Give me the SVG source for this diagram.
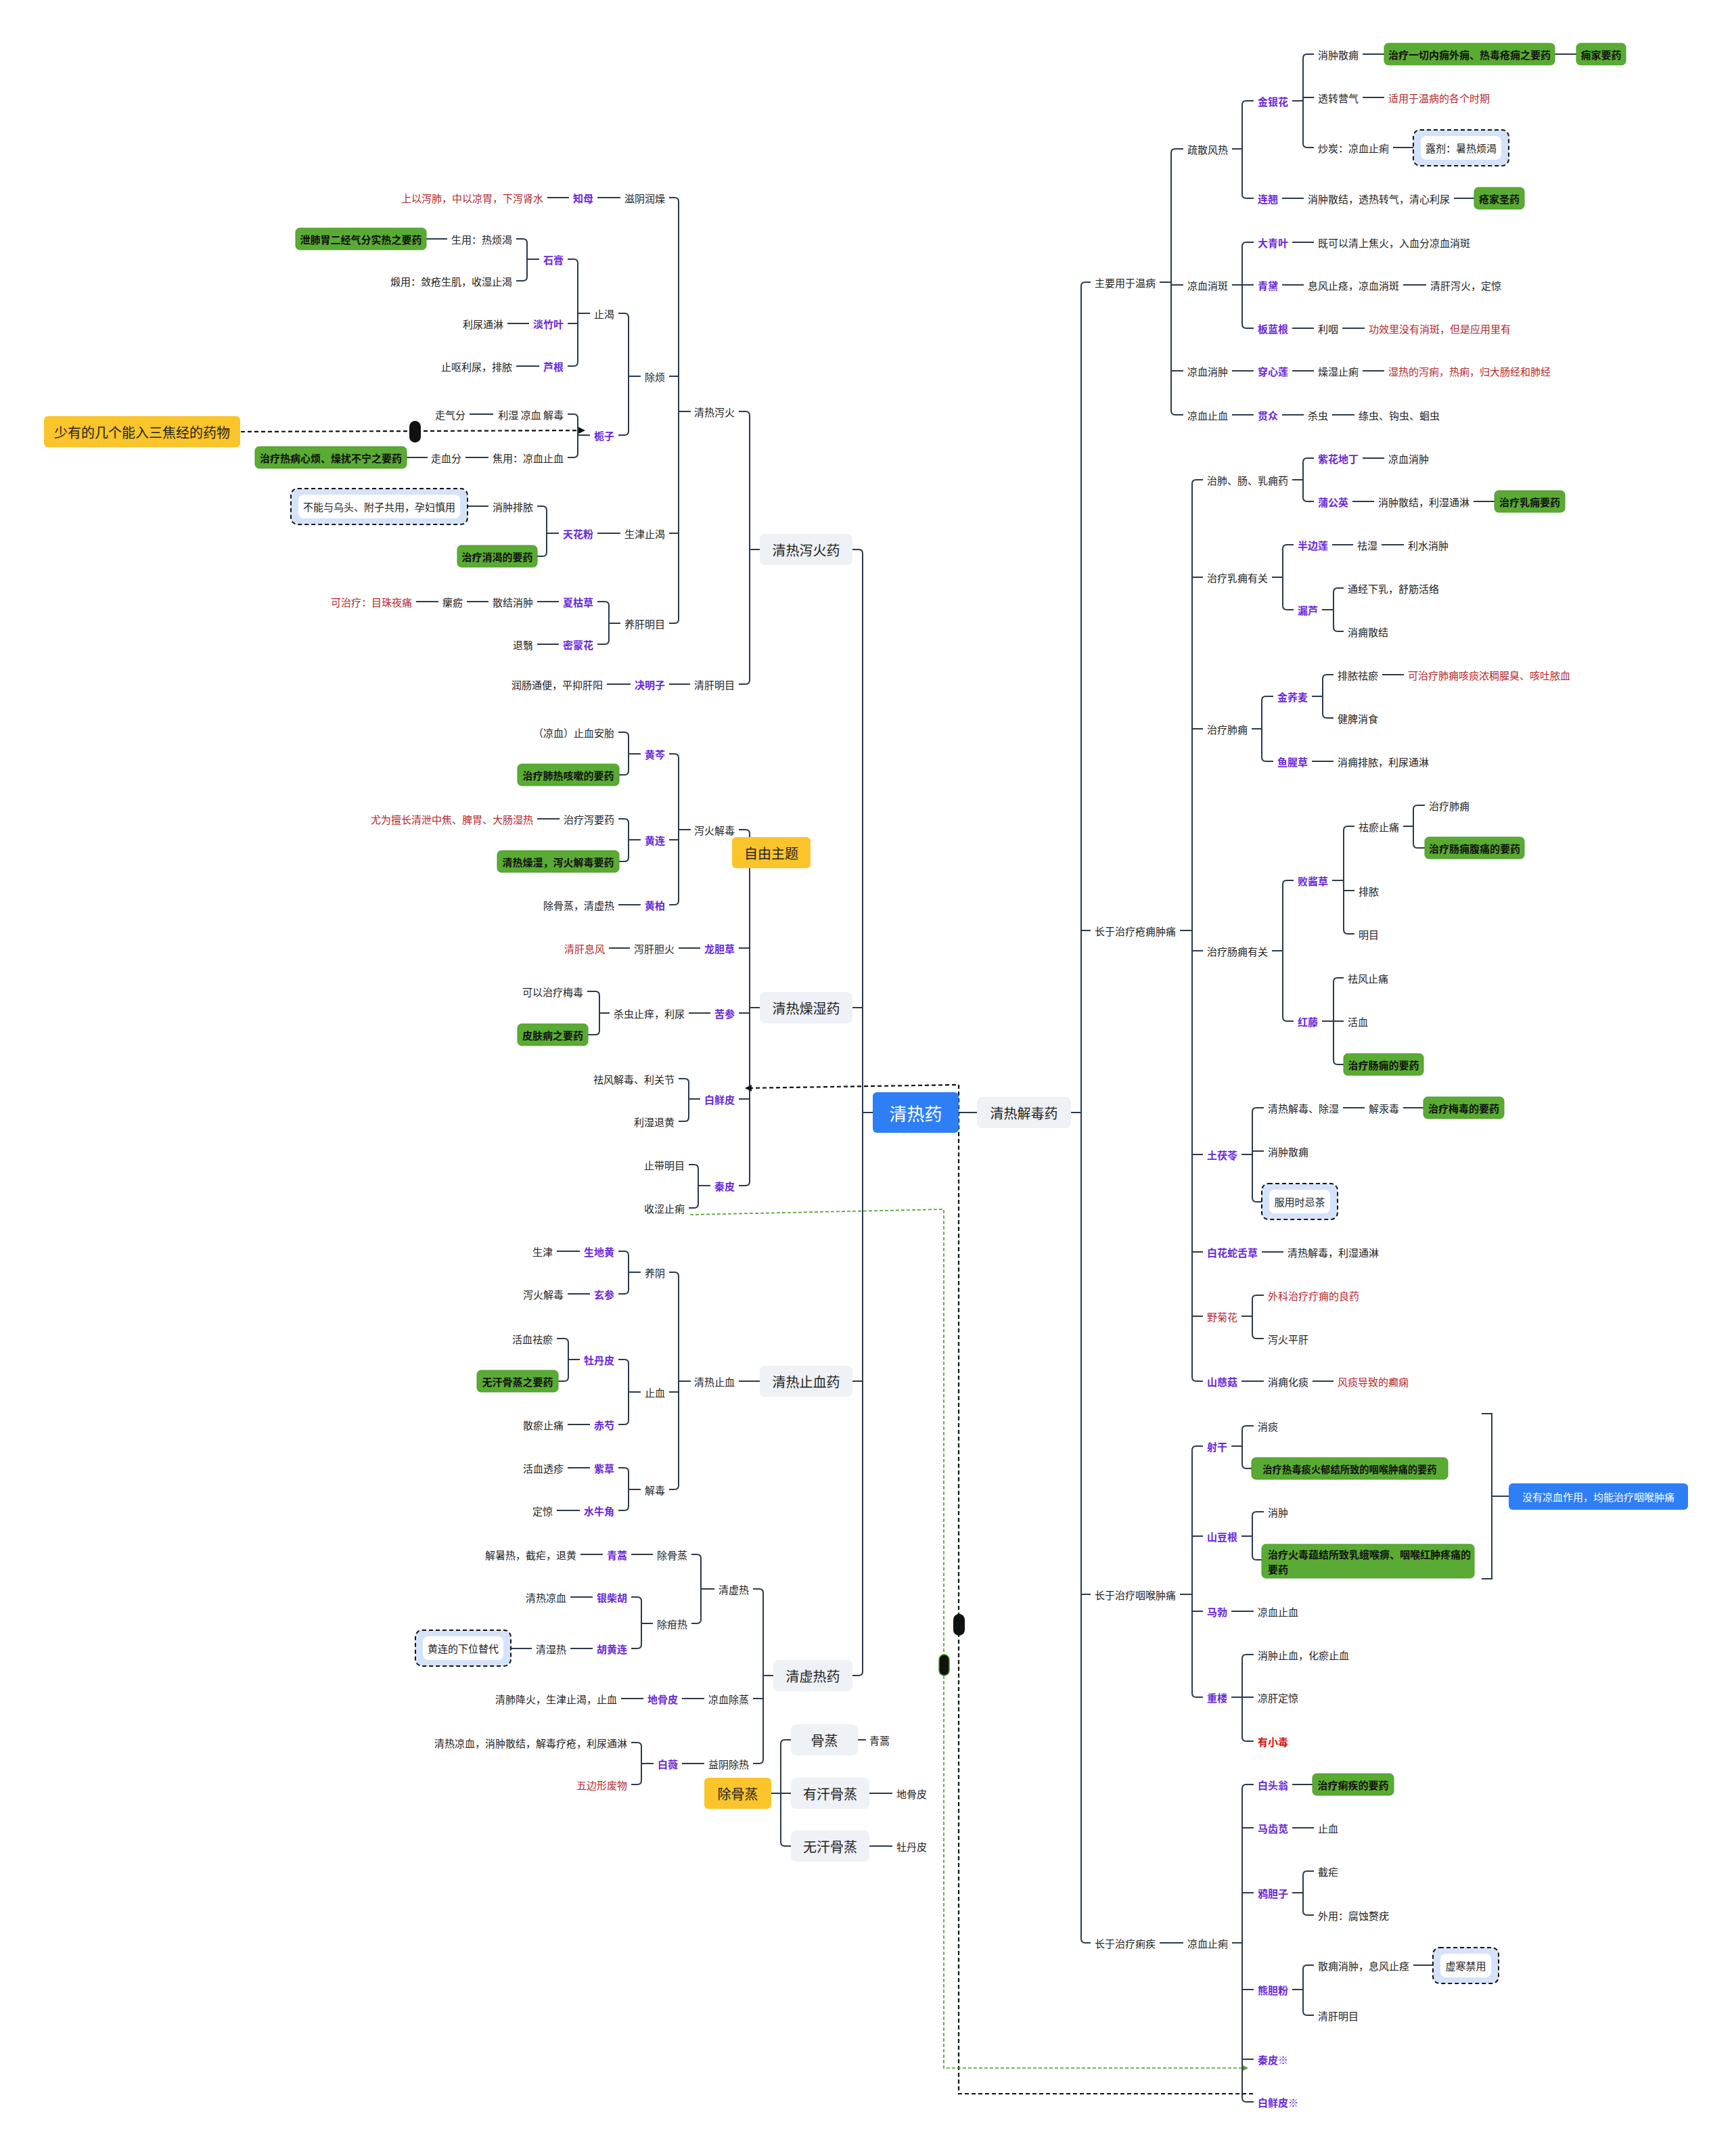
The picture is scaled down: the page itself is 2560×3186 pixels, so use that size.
<svg xmlns="http://www.w3.org/2000/svg" width="2560" height="3186" viewBox="0 0 2560 3186">
<style>
text{font-family:"Noto Sans CJK SC","Noto Sans",sans-serif;font-size:15px;fill:#222;dominant-baseline:central}
.e{text-anchor:end}
.m{text-anchor:middle}
.d{fill:#6a28d8;font-weight:700}
.r{fill:#b3282d}
.k{font-weight:700;fill:#111}
.big{font-size:20px;fill:#222}
.gr{fill:#5aab33;stroke:#4a9a2b;stroke-width:1}
.gy{fill:#eef1f5}
.yl{fill:#fac42b}
.bl{fill:#2e7ef6}
.do{fill:#d5e3fa;stroke:#111;stroke-width:2;stroke-dasharray:6 4}
.di{fill:#fff}
.ln{fill:none;stroke:#2b3a4c;stroke-width:2}
.rb{fill:none;stroke:#111;stroke-width:2.2;stroke-dasharray:6 4}
.rg{fill:none;stroke:#4a9a2b;stroke-width:1.6;stroke-dasharray:5 3}
</style>
<defs>
<marker id="ab" viewBox="0 0 10 10" refX="9" refY="5" markerWidth="4.5" markerHeight="4.5" orient="auto" markerUnits="strokeWidth"><path d="M0,0 L10,5 L0,10 z" fill="#111"/></marker>
<marker id="ag" viewBox="0 0 10 10" refX="9" refY="5" markerWidth="5" markerHeight="5" orient="auto" markerUnits="strokeWidth"><path d="M0,0 L10,5 L0,10 z" fill="#4a9a2b"/></marker>
</defs>
<rect width="2560" height="3186" fill="#fff"/>
<g id="connectors">
<path class="ln" d="M1260 812H1269Q1275 812 1275 818V2470Q1275 2476 1269 2476H1260M1260 1489H1275M1260 2041H1275M1275 1644H1290"/>
<path class="ln" d="M1092 608H1102Q1108 608 1108 614V1005Q1108 1011 1102 1011H1092M1108 812H1123"/>
<path class="ln" d="M989 292H997Q1003 292 1003 298V915Q1003 921 997 921H989M989 556H1003M989 788H1003M1003 608H1021"/>
<path class="ln" d="M883 292H917M809 292H841"/>
<path class="ln" d="M914 463H923Q929 463 929 469V637Q929 643 923 643H914M929 556H947"/>
<path class="ln" d="M839 383H848Q854 383 854 389V535Q854 541 848 541H839M839 478H854M854 463H872"/>
<path class="ln" d="M763 353H773Q779 353 779 359V409Q779 415 773 415H763M779 383H797M630 353H661M750 478H782M763 541H797"/>
<path class="ln" d="M839 612H848Q854 612 854 618V670Q854 676 848 676H839M854 643H872M694 612H729M688 676H722M601 676H632"/>
<path class="ln" d="M883 788H917M794 748H802Q808 748 808 754V816Q808 822 802 822H794M808 788H826M691 748H722"/>
<path class="ln" d="M883 889H894Q900 889 900 895V946Q900 952 894 952H883M900 921H917M794 889H826M690 889H722M615 889H648M794 952H826"/>
<path class="ln" d="M989 1011H1020M897 1011H932"/>
<path class="ln" d="M1092 1226H1102Q1108 1226 1108 1232V1746Q1108 1752 1102 1752H1092M1092 1401H1108M1092 1497H1108M1092 1624H1108M1108 1489H1123"/>
<path class="ln" d="M989 1114H997Q1003 1114 1003 1120V1331Q1003 1337 997 1337H989M989 1241H1003M1003 1226H1021"/>
<path class="ln" d="M914 1082H923Q929 1082 929 1088V1139Q929 1145 923 1145H915M929 1114H947"/>
<path class="ln" d="M914 1210H923Q929 1210 929 1216V1267Q929 1273 923 1273H915M929 1241H947M794 1210H827M914 1337H947"/>
<path class="ln" d="M1003 1401H1035M900 1401H931M1018 1497H1050"/>
<path class="ln" d="M868 1465H880Q886 1465 886 1471V1523Q886 1529 880 1529H869M886 1497H901"/>
<path class="ln" d="M1003 1594H1012Q1018 1594 1018 1600V1651Q1018 1657 1012 1657H1003M1018 1624H1035"/>
<path class="ln" d="M1018 1721H1026Q1032 1721 1032 1727V1779Q1032 1785 1026 1785H1018M1032 1752H1050"/>
<path class="ln" d="M1092 2041H1123M989 1880H997Q1003 1880 1003 1886V2195Q1003 2201 997 2201H989M989 2057H1003M1003 2041H1021"/>
<path class="ln" d="M914 1849H923Q929 1849 929 1855V1906Q929 1912 923 1912H914M929 1880H947M823 1849H857M839 1912H872"/>
<path class="ln" d="M914 2009H923Q929 2009 929 2015V2099Q929 2105 923 2105H914M929 2057H947"/>
<path class="ln" d="M823 1978H834Q840 1978 840 1984V2035Q840 2041 834 2041H825M840 2009H857M839 2105H872"/>
<path class="ln" d="M914 2169H923Q929 2169 929 2175V2226Q929 2232 923 2232H914M929 2201H947M839 2169H872M823 2232H857"/>
<path class="ln" d="M1113 2348H1122Q1128 2348 1128 2354V2600Q1128 2606 1122 2606H1113M1113 2510H1128M1128 2476H1143"/>
<path class="ln" d="M1022 2297H1030Q1036 2297 1036 2303V2393Q1036 2399 1030 2399H1022M1036 2348H1056M933 2297H965M858 2297H891"/>
<path class="ln" d="M933 2360H942Q948 2360 948 2366V2430Q948 2436 942 2436H933M948 2399H965M843 2360H876M843 2436H876M755 2436H786"/>
<path class="ln" d="M1008 2510H1041M918 2510H951M1008 2606H1041"/>
<path class="ln" d="M933 2575H942Q948 2575 948 2581V2631Q948 2637 942 2637H933M948 2606H966"/>
<path class="ln" d="M1169 2571H1160Q1154 2571 1154 2577V2722Q1154 2728 1160 2728H1169M1140 2650H1169M1268 2571H1280M1285 2650H1319M1285 2728H1319"/>
<path class="ln" d="M1417 1644H1444M1612 417H1604Q1598 417 1598 423V2865Q1598 2871 1604 2871H1612M1598 1375H1612M1598 2356H1612M1583 1644H1598"/>
<path class="ln" d="M1749 220H1737Q1731 220 1731 226V607Q1731 613 1737 613H1749M1731 421H1749M1731 548H1749M1714 417H1731"/>
<path class="ln" d="M1853 149H1842Q1836 149 1836 155V287Q1836 293 1842 293H1853M1821 220H1836"/>
<path class="ln" d="M1942 80H1932Q1926 80 1926 86V212Q1926 218 1932 218H1942M1926 144H1942M1910 149H1926M2014 80H2046M2298 80H2330M2014 144H2046M2059 218H2089M1895 293H1927M2149 293H2179"/>
<path class="ln" d="M1853 358H1842Q1836 358 1836 364V479Q1836 485 1842 485H1853M1821 421H1853M1910 358H1942M1895 421H1927M2074 421H2108M1910 485H1942M1984 485H2017"/>
<path class="ln" d="M1821 548H1853M1910 548H1942M2014 548H2046M1821 613H1853M1895 613H1927M1969 613H2002"/>
<path class="ln" d="M1778 709H1768Q1762 709 1762 715V2035Q1762 2041 1768 2041H1778M1762 853H1778M1762 1077H1778M1762 1405H1778M1762 1706H1778M1762 1850H1778M1762 1945H1778M1744 1375H1762"/>
<path class="ln" d="M1942 677H1932Q1926 677 1926 683V735Q1926 741 1932 741H1942M1910 709H1926M2014 677H2046M1999 741H2031M2178 741H2209"/>
<path class="ln" d="M1912 805H1902Q1896 805 1896 811V895Q1896 901 1902 901H1912M1880 853H1896M1969 805H2000M2042 805H2075"/>
<path class="ln" d="M1986 869H1977Q1971 869 1971 875V927Q1971 933 1977 933H1986M1954 901H1971"/>
<path class="ln" d="M1882 1029H1871Q1865 1029 1865 1035V1119Q1865 1125 1871 1125H1882M1850 1077H1865"/>
<path class="ln" d="M1971 997H1961Q1955 997 1955 1003V1055Q1955 1061 1961 1061H1971M1939 1029H1955M2043 997H2075M1939 1125H1971"/>
<path class="ln" d="M1912 1301H1902Q1896 1301 1896 1307V1503Q1896 1509 1902 1509H1912M1880 1405H1896"/>
<path class="ln" d="M2002 1221H1992Q1986 1221 1986 1227V1374Q1986 1380 1992 1380H2002M1986 1316H2002M1969 1301H1986"/>
<path class="ln" d="M2106 1190H2095Q2089 1190 2089 1196V1247Q2089 1253 2095 1253H2106M2074 1221H2089"/>
<path class="ln" d="M1986 1445H1977Q1971 1445 1971 1451V1567Q1971 1573 1977 1573H1986M1954 1509H1986"/>
<path class="ln" d="M1868 1637H1857Q1851 1637 1851 1643V1770Q1851 1776 1857 1776H1865M1851 1701H1868M1835 1706H1851M1985 1637H2017M2074 1637H2104M1865 1850H1897"/>
<path class="ln" d="M1868 1914H1857Q1851 1914 1851 1920V1972Q1851 1978 1857 1978H1868M1835 1945H1851M1835 2041H1868M1940 2041H1971"/>
<path class="ln" d="M1778 2137H1768Q1762 2137 1762 2143V2502Q1762 2508 1768 2508H1778M1762 2270H1778M1762 2381H1778M1744 2356H1762"/>
<path class="ln" d="M1853 2107H1842Q1836 2107 1836 2113V2164Q1836 2170 1842 2170H1850M1820 2137H1836"/>
<path class="ln" d="M1868 2234H1857Q1851 2234 1851 2240V2299Q1851 2305 1857 2305H1865M1835 2270H1851"/>
<path class="ln" d="M2190 2089H2205V2333H2190M2205 2211H2230M1820 2381H1853"/>
<path class="ln" d="M1853 2445H1842Q1836 2445 1836 2451V2567Q1836 2573 1842 2573H1853M1820 2508H1853"/>
<path class="ln" d="M1714 2871H1749M1853 2637H1842Q1836 2637 1836 2643V3100Q1836 3106 1842 3106H1853M1836 2701H1853M1836 2797H1853M1836 2940H1853M1836 3043H1853M1821 2871H1836"/>
<path class="ln" d="M1910 2637H1940M1910 2701H1942"/>
<path class="ln" d="M1942 2765H1932Q1926 2765 1926 2771V2824Q1926 2830 1932 2830H1942M1910 2797H1926"/>
<path class="ln" d="M1942 2904H1932Q1926 2904 1926 2910V2972Q1926 2978 1932 2978H1942M1910 2940H1926M2089 2904H2118"/>
<path class="rb" d="M356 638L864 636" marker-end="url(#ab)"/>
<path class="rb" d="M1852 3094H1417V1603L1102 1608" marker-end="url(#ab)"/>
<path class="rg" d="M1020 1795L1395 1787V3056H1844" marker-end="url(#ag)"/>
<rect x="605" y="622" width="17" height="32" rx="8.5" fill="#111"/>
<rect x="1409" y="2385" width="17" height="32" rx="8.5" fill="#111"/>
<rect x="1388" y="2445" width="15" height="31" rx="7.5" fill="#111" stroke="#4a9a2b" stroke-width="1.5"/>
</g>
<g id="n-root"><rect class="bl" x="1290" y="1614" width="127" height="60" rx="6"/><text class="m" x="1353.5" y="1644" style="font-size:26px;fill:#fff">清热药</text></g>
<g id="n-l1a"><rect class="gy" x="1123" y="789" width="137" height="46" rx="8"/><text class="m big" x="1191.5" y="812">清热泻火药</text></g>
<g id="n-l1b"><rect class="gy" x="1123" y="1466" width="137" height="46" rx="8"/><text class="m big" x="1191.5" y="1489">清热燥湿药</text></g>
<g id="n-l1c"><rect class="gy" x="1123" y="2018" width="137" height="46" rx="8"/><text class="m big" x="1191.5" y="2041">清热止血药</text></g>
<g id="n-l1d"><rect class="gy" x="1143" y="2453" width="117" height="46" rx="8"/><text class="m big" x="1201.5" y="2476">清虚热药</text></g>
<g id="n-r1"><rect class="gy" x="1444" y="1621" width="139" height="46" rx="8"/><text class="m big" x="1513.5" y="1644">清热解毒药</text></g>
<g id="n-f1"><rect class="yl" x="65" y="615" width="290" height="46" rx="6"/><text class="m big" x="210" y="638">少有的几个能入三焦经的药物</text></g>
<g id="n-f2"><rect class="yl" x="1082" y="1237" width="116" height="46" rx="6"/><text class="m big" x="1140" y="1260">自由主题</text></g>
<g id="n-f3"><rect class="yl" x="1041" y="2627" width="99" height="46" rx="6"/><text class="m big" x="1090.5" y="2650">除骨蒸</text></g>
<g id="n-gz1"><rect class="gy" x="1169" y="2548" width="99" height="46" rx="8"/><text class="m big" x="1218.5" y="2571">骨蒸</text></g>
<g id="n-gz2"><rect class="gy" x="1169" y="2627" width="116" height="46" rx="8"/><text class="m big" x="1227" y="2650">有汗骨蒸</text></g>
<g id="n-gz3"><rect class="gy" x="1169" y="2705" width="116" height="46" rx="8"/><text class="m big" x="1227" y="2728">无汗骨蒸</text></g>
<g id="n-gz1a"><text x="1285" y="2571">青蒿</text></g>
<g id="n-gz2a"><text x="1325" y="2650">地骨皮</text></g>
<g id="n-gz3a"><text x="1325" y="2728">牡丹皮</text></g>
<g id="n-a1"><text class="e" x="1086" y="608">清热泻火</text></g>
<g id="n-a2"><text class="e" x="1086" y="1011">清肝明目</text></g>
<g id="n-a11"><text class="e" x="983" y="292">滋阴润燥</text></g>
<g id="n-a12"><text class="e" x="983" y="556">除烦</text></g>
<g id="n-a13"><text class="e" x="983" y="788">生津止渴</text></g>
<g id="n-a14"><text class="e" x="983" y="921">养肝明目</text></g>
<g id="n-zm"><text class="e d" x="877" y="292">知母</text></g>
<g id="n-zm1"><text class="e r" x="803" y="292">上以泻肺，中以凉胃，下泻肾水</text></g>
<g id="n-zk"><text class="e" x="908" y="463">止渴</text></g>
<g id="n-zz"><text class="e d" x="908" y="643">栀子</text></g>
<g id="n-sgao"><text class="e d" x="833" y="383">石膏</text></g>
<g id="n-dzy"><text class="e d" x="833" y="478">淡竹叶</text></g>
<g id="n-lg"><text class="e d" x="833" y="541">芦根</text></g>
<g id="n-sg1"><text class="e" x="757" y="353">生用：热烦渴</text></g>
<g id="n-sg2"><text class="e" x="757" y="415">煅用：敛疮生肌，收湿止渴</text></g>
<g id="n-sg1g"><rect class="gr" x="437" y="337" width="193" height="32" rx="6"/><text class="m k" x="533.5" y="353">泄肺胃二经气分实热之要药</text></g>
<g id="n-dzy1"><text class="e" x="744" y="478">利尿通淋</text></g>
<g id="n-lg1"><text class="e" x="757" y="541">止呕利尿，排脓</text></g>
<g id="n-zz1"><text class="e" x="833" y="612">利湿 凉血 解毒</text></g>
<g id="n-zz2"><text class="e" x="833" y="676">焦用：凉血止血</text></g>
<g id="n-zz1a"><text class="e" x="688" y="612">走气分</text></g>
<g id="n-zz2a"><text class="e" x="682" y="676">走血分</text></g>
<g id="n-zz2g"><rect class="gr" x="377" y="660" width="224" height="32" rx="6"/><text class="m k" x="489" y="676">治疗热病心烦、燥扰不宁之要药</text></g>
<g id="n-thf"><text class="e d" x="877" y="788">天花粉</text></g>
<g id="n-thf1"><text class="e" x="788" y="748">消肿排脓</text></g>
<g id="n-thfg"><rect class="gr" x="676" y="806" width="118" height="32" rx="6"/><text class="m k" x="735" y="822">治疗消渴的要药</text></g>
<g id="n-thfd"><rect class="do" x="430" y="722" width="261" height="53" rx="10"/><rect class="di" x="441" y="731" width="239" height="35" rx="8"/><text class="m" x="560.5" y="748.5">不能与乌头、附子共用，孕妇慎用</text></g>
<g id="n-xkc"><text class="e d" x="877" y="889">夏枯草</text></g>
<g id="n-xkc1"><text class="e" x="788" y="889">散结消肿</text></g>
<g id="n-xkc2"><text class="e" x="684" y="889">瘰疬</text></g>
<g id="n-xkc3"><text class="e r" x="609" y="889">可治疗：目珠夜痛</text></g>
<g id="n-mmh"><text class="e d" x="877" y="952">密蒙花</text></g>
<g id="n-mmh1"><text class="e" x="788" y="952">退翳</text></g>
<g id="n-jmz"><text class="e d" x="983" y="1011">决明子</text></g>
<g id="n-jmz1"><text class="e" x="891" y="1011">润肠通便，平抑肝阳</text></g>
<g id="n-b1"><text class="e" x="1086" y="1226">泻火解毒</text></g>
<g id="n-lcd"><text class="e d" x="1086" y="1401">龙胆草</text></g>
<g id="n-ks"><text class="e d" x="1086" y="1497">苦参</text></g>
<g id="n-bxp"><text class="e d" x="1086" y="1624">白鲜皮</text></g>
<g id="n-qp"><text class="e d" x="1086" y="1752">秦皮</text></g>
<g id="n-hq"><text class="e d" x="983" y="1114">黄芩</text></g>
<g id="n-hl"><text class="e d" x="983" y="1241">黄连</text></g>
<g id="n-hb"><text class="e d" x="983" y="1337">黄柏</text></g>
<g id="n-hq1"><text class="e" x="908" y="1082">（凉血）止血安胎</text></g>
<g id="n-hqg"><rect class="gr" x="765" y="1129" width="150" height="32" rx="6"/><text class="m k" x="840" y="1145">治疗肺热咳嗽的要药</text></g>
<g id="n-hl1"><text class="e" x="908" y="1210">治疗泻要药</text></g>
<g id="n-hl1r"><text class="e r" x="788" y="1210">尤为擅长清泄中焦、脾胃、大肠湿热</text></g>
<g id="n-hlg"><rect class="gr" x="735" y="1257" width="180" height="32" rx="6"/><text class="m k" x="825" y="1273">清热燥湿，泻火解毒要药</text></g>
<g id="n-hb1"><text class="e" x="908" y="1337">除骨蒸，清虚热</text></g>
<g id="n-lcd1"><text class="e" x="997" y="1401">泻肝胆火</text></g>
<g id="n-lcd2"><text class="e r" x="894" y="1401">清肝息风</text></g>
<g id="n-ks1"><text class="e" x="1012" y="1497">杀虫止痒，利尿</text></g>
<g id="n-ks2"><text class="e" x="862" y="1465">可以治疗梅毒</text></g>
<g id="n-ksg"><rect class="gr" x="765" y="1513" width="104" height="32" rx="6"/><text class="m k" x="817" y="1529">皮肤病之要药</text></g>
<g id="n-bxp1"><text class="e" x="997" y="1594">祛风解毒、利关节</text></g>
<g id="n-bxp2"><text class="e" x="997" y="1657">利湿退黄</text></g>
<g id="n-qp1"><text class="e" x="1012" y="1721">止带明目</text></g>
<g id="n-qp2"><text class="e" x="1012" y="1785">收涩止痢</text></g>
<g id="n-c1"><text class="e" x="1086" y="2041">清热止血</text></g>
<g id="n-c11"><text class="e" x="983" y="1880">养阴</text></g>
<g id="n-c12"><text class="e" x="983" y="2057">止血</text></g>
<g id="n-c13"><text class="e" x="983" y="2201">解毒</text></g>
<g id="n-sdh"><text class="e d" x="908" y="1849">生地黄</text></g>
<g id="n-sdh1"><text class="e" x="817" y="1849">生津</text></g>
<g id="n-xs"><text class="e d" x="908" y="1912">玄参</text></g>
<g id="n-xs1"><text class="e" x="833" y="1912">泻火解毒</text></g>
<g id="n-mdp"><text class="e d" x="908" y="2009">牡丹皮</text></g>
<g id="n-mdp1"><text class="e" x="817" y="1978">活血祛瘀</text></g>
<g id="n-mdpg"><rect class="gr" x="705" y="2025" width="120" height="32" rx="6"/><text class="m k" x="765" y="2041">无汗骨蒸之要药</text></g>
<g id="n-cs"><text class="e d" x="908" y="2105">赤芍</text></g>
<g id="n-cs1"><text class="e" x="833" y="2105">散瘀止痛</text></g>
<g id="n-zc"><text class="e d" x="908" y="2169">紫草</text></g>
<g id="n-zc1"><text class="e" x="833" y="2169">活血透疹</text></g>
<g id="n-snj"><text class="e d" x="908" y="2232">水牛角</text></g>
<g id="n-snj1"><text class="e" x="817" y="2232">定惊</text></g>
<g id="n-d1"><text class="e" x="1107" y="2348">清虚热</text></g>
<g id="n-d2"><text class="e" x="1107" y="2510">凉血除蒸</text></g>
<g id="n-d3"><text class="e" x="1107" y="2606">益阴除热</text></g>
<g id="n-d11"><text class="e" x="1016" y="2297">除骨蒸</text></g>
<g id="n-d12"><text class="e" x="1016" y="2399">除疳热</text></g>
<g id="n-qh"><text class="e d" x="927" y="2297">青蒿</text></g>
<g id="n-qh1"><text class="e" x="852" y="2297">解暑热，截疟，退黄</text></g>
<g id="n-ych"><text class="e d" x="927" y="2360">银柴胡</text></g>
<g id="n-ych1"><text class="e" x="837" y="2360">清热凉血</text></g>
<g id="n-hhl"><text class="e d" x="927" y="2436">胡黄连</text></g>
<g id="n-hhl1"><text class="e" x="837" y="2436">清湿热</text></g>
<g id="n-hhld"><rect class="do" x="614" y="2409" width="141" height="53" rx="10"/><rect class="di" x="625" y="2418" width="119" height="35" rx="8"/><text class="m" x="684.5" y="2435.5">黄连的下位替代</text></g>
<g id="n-dgp"><text class="e d" x="1002" y="2510">地骨皮</text></g>
<g id="n-dgp1"><text class="e" x="912" y="2510">清肺降火，生津止渴，止血</text></g>
<g id="n-bw"><text class="e d" x="1002" y="2606">白薇</text></g>
<g id="n-bw1"><text class="e" x="927" y="2575">清热凉血，消肿散结，解毒疗疮，利尿通淋</text></g>
<g id="n-bw2"><text class="e r" x="927" y="2637">五边形废物</text></g>
<g id="n-r11"><text x="1618" y="417">主要用于温病</text></g>
<g id="n-r12"><text x="1618" y="1375">长于治疗疮痈肿痛</text></g>
<g id="n-r13"><text x="1618" y="2356">长于治疗咽喉肿痛</text></g>
<g id="n-r14"><text x="1618" y="2871">长于治疗痢疾</text></g>
<g id="n-w1"><text x="1755" y="220">疏散风热</text></g>
<g id="n-w2"><text x="1755" y="421">凉血消斑</text></g>
<g id="n-w3"><text x="1755" y="548">凉血消肿</text></g>
<g id="n-w4"><text x="1755" y="613">凉血止血</text></g>
<g id="n-jyh"><text class="d" x="1859" y="149">金银花</text></g>
<g id="n-lq"><text class="d" x="1859" y="293">连翘</text></g>
<g id="n-jyh1"><text x="1948" y="80">消肿散痈</text></g>
<g id="n-jyh2"><text x="1948" y="144">透转营气</text></g>
<g id="n-jyh3"><text x="1948" y="218">炒炭：凉血止痢</text></g>
<g id="n-jyh1g"><rect class="gr" x="2046" y="64" width="252" height="32" rx="6"/><text class="m k" x="2172" y="80">治疗一切内痈外痈、热毒疮痈之要药</text></g>
<g id="n-jyh1h"><rect class="gr" x="2330" y="64" width="73" height="32" rx="6"/><text class="m k" x="2366.5" y="80">痈家要药</text></g>
<g id="n-jyh2r"><text class="r" x="2052" y="144">适用于温病的各个时期</text></g>
<g id="n-jyh3d"><rect class="do" x="2089" y="192" width="141" height="53" rx="10"/><rect class="di" x="2100" y="201" width="119" height="35" rx="8"/><text class="m" x="2159.5" y="218.5">露剂：暑热烦渴</text></g>
<g id="n-lq1"><text x="1933" y="293">消肿散结，透热转气，清心利尿</text></g>
<g id="n-lqg"><rect class="gr" x="2179" y="277" width="74" height="32" rx="6"/><text class="m k" x="2216" y="293">疮家圣药</text></g>
<g id="n-dqy"><text class="d" x="1859" y="358">大青叶</text></g>
<g id="n-dqy1"><text x="1948" y="358">既可以清上焦火，入血分凉血消斑</text></g>
<g id="n-qd"><text class="d" x="1859" y="421">青黛</text></g>
<g id="n-qd1"><text x="1933" y="421">息风止痉，凉血消斑</text></g>
<g id="n-qd2"><text x="2114" y="421">清肝泻火，定惊</text></g>
<g id="n-blg"><text class="d" x="1859" y="485">板蓝根</text></g>
<g id="n-blg1"><text x="1948" y="485">利咽</text></g>
<g id="n-blg2"><text class="r" x="2023" y="485">功效里没有消斑，但是应用里有</text></g>
<g id="n-cxl"><text class="d" x="1859" y="548">穿心莲</text></g>
<g id="n-cxl1"><text x="1948" y="548">燥湿止痢</text></g>
<g id="n-cxl2"><text class="r" x="2052" y="548">湿热的泻痢，热痢，归大肠经和肺经</text></g>
<g id="n-gzh"><text class="d" x="1859" y="613">贯众</text></g>
<g id="n-gzh1"><text x="1933" y="613">杀虫</text></g>
<g id="n-gzh2"><text x="2008" y="613">绦虫、钩虫、蛔虫</text></g>
<g id="n-p1"><text x="1784" y="709">治肺、肠、乳痈药</text></g>
<g id="n-p2"><text x="1784" y="853">治疗乳痈有关</text></g>
<g id="n-p3"><text x="1784" y="1077">治疗肺痈</text></g>
<g id="n-p4"><text x="1784" y="1405">治疗肠痈有关</text></g>
<g id="n-tfl"><text class="d" x="1784" y="1706">土茯苓</text></g>
<g id="n-bhs"><text class="d" x="1784" y="1850">白花蛇舌草</text></g>
<g id="n-yjh"><text class="r" x="1784" y="1945">野菊花</text></g>
<g id="n-scg"><text class="d" x="1784" y="2041">山慈菇</text></g>
<g id="n-zhdd"><text class="d" x="1948" y="677">紫花地丁</text></g>
<g id="n-zhdd1"><text x="2052" y="677">凉血消肿</text></g>
<g id="n-pgy"><text class="d" x="1948" y="741">蒲公英</text></g>
<g id="n-pgy1"><text x="2037" y="741">消肿散结，利湿通淋</text></g>
<g id="n-pgyg"><rect class="gr" x="2209" y="725" width="104" height="32" rx="6"/><text class="m k" x="2261" y="741">治疗乳痈要药</text></g>
<g id="n-bbl"><text class="d" x="1918" y="805">半边莲</text></g>
<g id="n-bbl1"><text x="2006" y="805">祛湿</text></g>
<g id="n-bbl2"><text x="2081" y="805">利水消肿</text></g>
<g id="n-ll"><text class="d" x="1918" y="901">漏芦</text></g>
<g id="n-ll1"><text x="1992" y="869">通经下乳，舒筋活络</text></g>
<g id="n-ll2"><text x="1992" y="933">消痈散结</text></g>
<g id="n-jqm"><text class="d" x="1888" y="1029">金荞麦</text></g>
<g id="n-jqm1"><text x="1977" y="997">排脓祛瘀</text></g>
<g id="n-jqm1r"><text class="r" x="2081" y="997">可治疗肺痈咳痰浓稠腥臭、咳吐脓血</text></g>
<g id="n-jqm2"><text x="1977" y="1061">健脾消食</text></g>
<g id="n-yxc"><text class="d" x="1888" y="1125">鱼腥草</text></g>
<g id="n-yxc1"><text x="1977" y="1125">消痈排脓，利尿通淋</text></g>
<g id="n-bjc"><text class="d" x="1918" y="1301">败酱草</text></g>
<g id="n-bjc1"><text x="2008" y="1221">祛瘀止痛</text></g>
<g id="n-bjc2"><text x="2008" y="1316">排脓</text></g>
<g id="n-bjc3"><text x="2008" y="1380">明目</text></g>
<g id="n-bjc11"><text x="2112" y="1190">治疗肺痈</text></g>
<g id="n-bjcg"><rect class="gr" x="2106" y="1237" width="147" height="32" rx="6"/><text class="m k" x="2179.5" y="1253">治疗肠痈腹痛的要药</text></g>
<g id="n-ht"><text class="d" x="1918" y="1509">红藤</text></g>
<g id="n-ht1"><text x="1992" y="1445">祛风止痛</text></g>
<g id="n-ht2"><text x="1992" y="1509">活血</text></g>
<g id="n-htg"><rect class="gr" x="1986" y="1557" width="118" height="32" rx="6"/><text class="m k" x="2045" y="1573">治疗肠痈的要药</text></g>
<g id="n-tfl1"><text x="1874" y="1637">清热解毒、除湿</text></g>
<g id="n-tfl1a"><text x="2023" y="1637">解汞毒</text></g>
<g id="n-tflg"><rect class="gr" x="2104" y="1621" width="119" height="32" rx="6"/><text class="m k" x="2163.5" y="1637">治疗梅毒的要药</text></g>
<g id="n-tfl2"><text x="1874" y="1701">消肿散痈</text></g>
<g id="n-tfld"><rect class="do" x="1865" y="1749" width="112" height="53" rx="10"/><rect class="di" x="1876" y="1758" width="90" height="35" rx="8"/><text class="m" x="1921" y="1775.5">服用时忌茶</text></g>
<g id="n-bhs1"><text x="1903" y="1850">清热解毒，利湿通淋</text></g>
<g id="n-yjh1"><text class="r" x="1874" y="1914">外科治疗疔痈的良药</text></g>
<g id="n-yjh2"><text x="1874" y="1978">泻火平肝</text></g>
<g id="n-scg1"><text x="1874" y="2041">消痈化痰</text></g>
<g id="n-scg2"><text class="r" x="1977" y="2041">风痰导致的癫痫</text></g>
<g id="n-sgan"><text class="d" x="1784" y="2137">射干</text></g>
<g id="n-sgan1"><text x="1859" y="2107">消痰</text></g>
<g id="n-sgang"><rect class="gr" x="1850" y="2154" width="290" height="32" rx="6"/><text class="m k" x="1995" y="2170" style="font-size:14.3px">治疗热毒痰火郁结所致的咽喉肿痛的要药</text></g>
<g id="n-sdg"><text class="d" x="1784" y="2270">山豆根</text></g>
<g id="n-sdg1"><text x="1874" y="2234">消肿</text></g>
<g id="n-sdgg"><rect class="gr" x="1865" y="2282" width="314" height="50" rx="6"/><text class="k" x="1874" y="2296">治疗火毒蕴结所致乳蛾喉痹、咽喉红肿疼痛的</text><text class="k" x="1874" y="2318">要药</text></g>
<g id="n-sum"><rect class="bl" x="2230" y="2192" width="265" height="39" rx="6"/><text class="m" x="2362.5" y="2211.5" style="fill:#fff">没有凉血作用，均能治疗咽喉肿痛</text></g>
<g id="n-mb"><text class="d" x="1784" y="2381">马勃</text></g>
<g id="n-mb1"><text x="1859" y="2381">凉血止血</text></g>
<g id="n-cl"><text class="d" x="1784" y="2508">重楼</text></g>
<g id="n-cl1"><text x="1859" y="2445">消肿止血，化瘀止血</text></g>
<g id="n-cl2"><text x="1859" y="2508">凉肝定惊</text></g>
<g id="n-cl3"><text x="1859" y="2573" style="fill:#d30f0f;font-weight:700">有小毒</text></g>
<g id="n-lx"><text x="1755" y="2871">凉血止痢</text></g>
<g id="n-btw"><text class="d" x="1859" y="2637">白头翁</text></g>
<g id="n-btwg"><rect class="gr" x="1940" y="2621" width="120" height="32" rx="6"/><text class="m k" x="2000" y="2637">治疗痢疾的要药</text></g>
<g id="n-mcx"><text class="d" x="1859" y="2701">马齿苋</text></g>
<g id="n-mcx1"><text x="1948" y="2701">止血</text></g>
<g id="n-ydz"><text class="d" x="1859" y="2797">鸦胆子</text></g>
<g id="n-ydz1"><text x="1948" y="2765">截疟</text></g>
<g id="n-ydz2"><text x="1948" y="2830">外用：腐蚀赘疣</text></g>
<g id="n-xdf"><text class="d" x="1859" y="2940">熊胆粉</text></g>
<g id="n-xdf1"><text x="1948" y="2904">散痈消肿，息风止痉</text></g>
<g id="n-xdfd"><rect class="do" x="2118" y="2878" width="97" height="53" rx="10"/><rect class="di" x="2129" y="2887" width="75" height="35" rx="8"/><text class="m" x="2166.5" y="2904.5">虚寒禁用</text></g>
<g id="n-xdf2"><text x="1948" y="2978">清肝明目</text></g>
<g id="n-qpx"><text class="d" x="1859" y="3043">秦皮※</text></g>
<g id="n-bxpx"><text class="d" x="1859" y="3106">白鲜皮※</text></g>
</svg>
